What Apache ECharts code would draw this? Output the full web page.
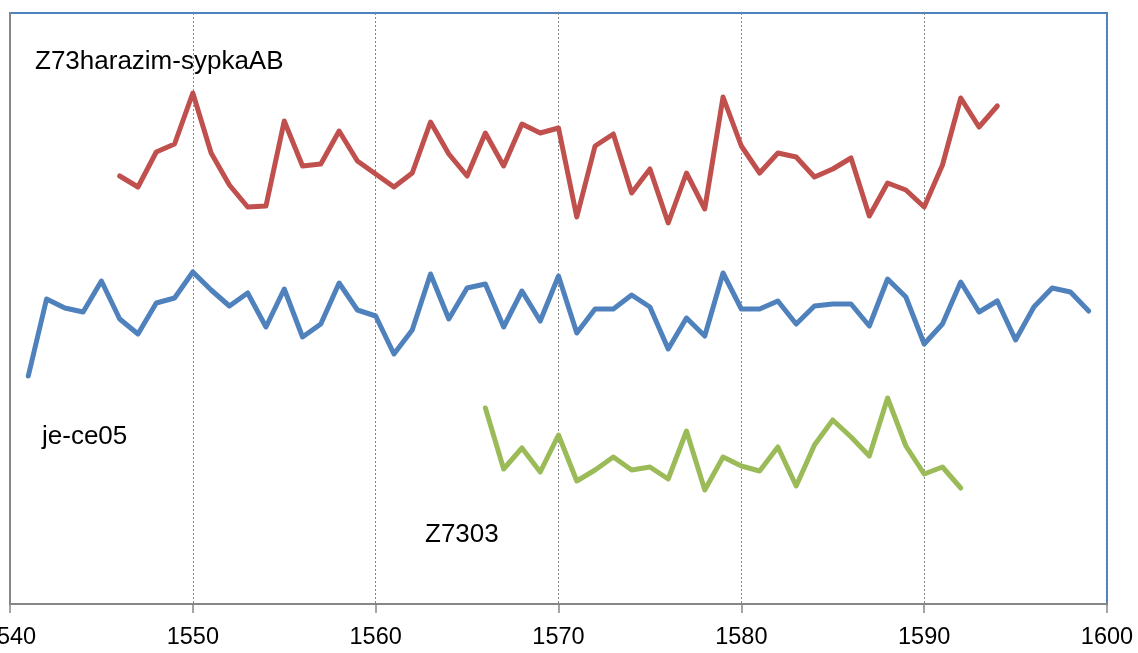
<!DOCTYPE html>
<html>
<head>
<meta charset="utf-8">
<script src="https://cdn.jsdelivr.net/npm/echarts@6/dist/echarts.min.js"></script>
<style>
html,body{margin:0;padding:0;background:#fff;}
#chart{width:1138px;height:653px;}
</style>
</head>
<body>
<div id="chart"></div>
<script>
// X axis ticks
const xTicks = [1540, 1550, 1560, 1570, 1580, 1590, 1600];

// Series: Z73harazim-sypkaAB (red), starts 1546
const redName = 'Z73harazim-sypkaAB';
const redStart = 1546;
const redValues = [428,417,452,460,511,451,419,397,398,483,438,440,473,443,430,417,431,482,450,428,471,438,480,471,476,387,458,470,411,435,381,431,395,507,458,431,451,447,427,435,446,388,421,414,397,439,506,477,498];

// Series: je-ce05 (blue), starts 1541
const blueName = 'je-ce05';
const blueStart = 1541;
const blueValues = [228,305,296,292,323,285,270,301,306,332,314,298,311,277,315,267,280,321,294,288,250,274,330,285,316,320,277,313,283,328,271,295,295,309,297,255,286,268,331,295,295,303,280,298,300,300,278,325,307,260,280,322,292,303,264,297,316,312,293];

// Series: Z7303 (green), starts 1566
const greenName = 'Z7303';
const greenStart = 1566;
const greenValues = [196,135,156,132,169,123,134,147,134,137,125,173,114,147,138,133,157,118,159,184,167,148,206,158,130,137,116];

function pairs(start, vals){ return vals.map((v,i)=>[start+i, v]); }

const chart = echarts.init(document.getElementById('chart'));
const FONT = '"Liberation Sans", Arial, sans-serif';

function lineSeries(name, start, vals, color){
  return {
    name: name, type: 'line', data: pairs(start, vals),
    showSymbol: false, symbol: 'none', smooth: false, animation: false,
    lineStyle: {color: color, width: 5, join: 'round', cap: 'round'},
    itemStyle: {color: color}
  };
}

chart.setOption({
  animation: false,
  backgroundColor: '#ffffff',
  grid: {left: 10, right: 31, top: 13, bottom: 49, containLabel: false, outerBoundsMode: 'none',
         show: true, borderColor: '#4f81bd', borderWidth: 2, backgroundColor: 'transparent'},
  xAxis: {
    type: 'value', min: xTicks[0], max: xTicks[xTicks.length-1], interval: 10,
    axisLine: {show: true, lineStyle: {color: '#868686', width: 2}},
    axisTick: {show: true, inside: false, length: 9, lineStyle: {color: '#868686', width: 1.5}},
    axisLabel: {show: true, color: '#000', fontFamily: FONT, fontSize: 23.5, margin: 22, formatter: v => String(v), showMinLabel: true, showMaxLabel: true},
    splitLine: {show: true, lineStyle: {color: '#868686', type: [2, 2], width: 1}}
  },
  yAxis: {
    type: 'value', min: 0, max: 591,
    axisLine: {show: true, onZero: false, lineStyle: {color: '#868686', width: 2}},
    axisTick: {show: false}, axisLabel: {show: false}, splitLine: {show: false}
  },
  series: [
    lineSeries(redName, redStart, redValues, '#c0504d'),
    lineSeries(blueName, blueStart, blueValues, '#4f81bd'),
    lineSeries(greenName, greenStart, greenValues, '#9bbb59')
  ],
  graphic: [
    {type: 'text', x: 35, y: 62, style: {text: redName, fill: '#000', font: '26px ' + FONT, verticalAlign: 'middle', align: 'left'}},
    {type: 'text', x: 42, y: 437, style: {text: blueName, fill: '#000', font: '26px ' + FONT, verticalAlign: 'middle', align: 'left'}},
    {type: 'text', x: 425, y: 535, style: {text: greenName, fill: '#000', font: '26px ' + FONT, verticalAlign: 'middle', align: 'left'}}
  ]
});
</script>
</body>
</html>
